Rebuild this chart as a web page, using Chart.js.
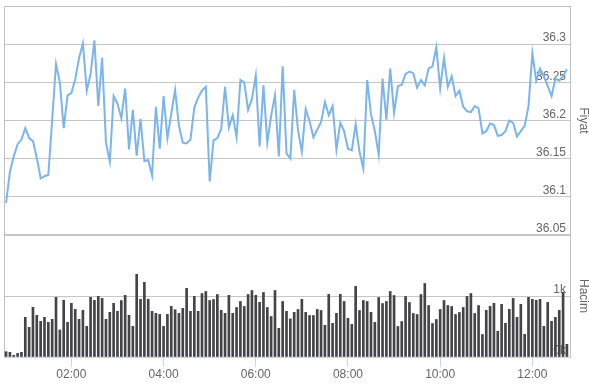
<!DOCTYPE html>
<html><head><meta charset="utf-8">
<script src="https://cdn.jsdelivr.net/npm/chart.js@4.4.1/dist/chart.umd.min.js"></script>
<style>html,body{margin:0;padding:0;background:#fff}#wrap{width:589px;height:384px}</style>
</head><body><div id="wrap"><canvas id="c" width="589" height="384"></canvas></div>
<script>
const times = [
'00:35','00:40','00:45','00:50','00:55',
'01:00','01:05','01:10','01:15','01:20','01:25','01:30','01:35','01:40','01:45','01:50','01:55',
'02:00','02:05','02:10','02:15','02:20','02:25','02:30','02:35','02:40','02:45','02:50','02:55',
'03:00','03:05','03:10','03:15','03:20','03:25','03:30','03:35','03:40','03:45','03:50','03:55',
'04:00','04:05','04:10','04:15','04:20','04:25','04:30','04:35','04:40','04:45','04:50','04:55',
'05:00','05:05','05:10','05:15','05:20','05:25','05:30','05:35','05:40','05:45','05:50','05:55',
'06:00','06:05','06:10','06:15','06:20','06:25','06:30','06:35','06:40','06:45','06:50','06:55',
'07:00','07:05','07:10','07:15','07:20','07:25','07:30','07:35','07:40','07:45','07:50','07:55',
'08:00','08:05','08:10','08:15','08:20','08:25','08:30','08:35','08:40','08:45','08:50','08:55',
'09:00','09:05','09:10','09:15','09:20','09:25','09:30','09:35','09:40','09:45','09:50','09:55',
'10:00','10:05','10:10','10:15','10:20','10:25','10:30','10:35','10:40','10:45','10:50','10:55',
'11:00','11:05','11:10','11:15','11:20','11:25','11:30','11:35','11:40','11:45','11:50','11:55',
'12:00','12:05','12:10','12:15','12:20','12:25','12:30','12:35','12:40','12:45'
];
const price = [
36.092,36.133,36.153,36.169,36.175,36.190,36.177,36.173,36.151,36.124,
36.127,36.129,36.201,36.274,36.250,36.190,36.233,36.236,36.254,36.282,
36.301,36.239,36.261,36.305,36.219,36.282,36.171,36.146,36.232,36.222,
36.203,36.242,36.162,36.214,36.154,36.202,36.147,36.148,36.128,36.218,
36.163,36.232,36.177,36.209,36.240,36.193,36.171,36.170,36.175,36.217,
36.230,36.239,36.244,36.120,36.174,36.177,36.189,36.244,36.191,36.207,
36.178,36.253,36.250,36.214,36.228,36.259,36.166,36.246,36.171,36.206,
36.233,36.153,36.271,36.157,36.150,36.240,36.187,36.159,36.215,36.199,
36.178,36.188,36.198,36.224,36.207,36.219,36.162,36.197,36.186,36.163,
36.161,36.195,36.159,36.137,36.253,36.208,36.186,36.155,36.255,36.201,
36.268,36.210,36.245,36.247,36.261,36.264,36.262,36.243,36.253,36.246,
36.268,36.271,36.296,36.242,36.282,36.244,36.258,36.232,36.239,36.218,
36.212,36.211,36.219,36.216,36.183,36.186,36.196,36.194,36.180,36.181,
36.186,36.200,36.197,36.179,36.186,36.193,36.219,36.288,36.252,36.268,
36.258,36.245,36.232,36.255,36.252,36.258,36.267
];
const volume = [
87,77,27,60,77,650,486,814,683,585,
650,568,617,978,443,929,568,880,781,617,
765,503,978,929,994,962,617,732,880,749,
925,1011,683,503,1355,945,1224,945,749,716,
699,503,699,830,775,716,798,1126,749,994,
749,1040,1073,926,942,1024,765,716,1011,716,
812,910,828,1025,1090,1011,896,1058,812,664,
1090,470,910,749,625,732,779,945,732,680,
680,779,762,519,1027,552,716,1027,910,634,
535,1158,762,926,910,732,568,975,877,910,
1074,1008,500,582,992,894,713,697,1025,1205,
844,549,615,779,926,844,828,697,730,812,
992,1041,713,844,369,765,830,880,421,863,
552,781,962,650,863,372,978,945,929,945,
503,896,585,650,765,1060,208
];
const xTickLabels = ['02:00','04:00','06:00','08:00','10:00','12:00'];
const priceTicks = [36.05,36.1,36.15,36.2,36.25,36.3];
const volumeTicks = [0,1000];

const toMin = s => { const p = s.split(':'); return (+p[0])*60 + (+p[1]); };
const fmtMin = v => { const h = Math.floor(v/60), m = Math.round(v%60); return String(h).padStart(2,'0')+':'+String(m).padStart(2,'0'); };

const plotBorder = {
  id: 'plotBorder',
  beforeDatasetsDraw(chart) {
    const {ctx, chartArea: a} = chart;
    ctx.save();
    ctx.strokeStyle = '#c0c0c0';
    ctx.lineWidth = 1;
    ctx.beginPath();
    ctx.moveTo(a.left + 0.5, a.bottom);
    ctx.lineTo(a.left + 0.5, a.top + 0.5);
    ctx.lineTo(a.right, a.top + 0.5);
    ctx.stroke();
    ctx.restore();
  }
};

Chart.defaults.font.family = "'Liberation Sans', Arial, sans-serif";
Chart.defaults.font.size = 12;
Chart.defaults.color = '#666666';

new Chart(document.getElementById('c'), {
  type: 'bar',
  data: {
    datasets: [
      {
        type: 'line',
        label: 'Fiyat',
        data: times.map((t, i) => ({x: toMin(t), y: price[i]})),
        xAxisID: 'x', yAxisID: 'y',
        borderColor: '#7cb5ec', borderWidth: 2,
        pointRadius: 0, tension: 0, fill: false
      },
      {
        type: 'bar',
        label: 'Hacim',
        data: times.map((t, i) => ({x: toMin(t), y: volume[i]})),
        xAxisID: 'x', yAxisID: 'y2',
        backgroundColor: '#434348',
        barThickness: 2
      }
    ]
  },
  options: {
    responsive: false,
    animation: false,
    devicePixelRatio: 1,
    layout: { padding: { left: 4, top: 6, right: 0, bottom: 0 } },
    plugins: { legend: { display: false }, tooltip: { enabled: false } },
    scales: {
      x: {
        type: 'linear',
        position: 'bottom',
        min: 32.3, max: 769,
        offset: false,
        afterBuildTicks: s => { s.ticks = xTickLabels.map(l => ({value: toMin(l)})); },
        afterFit: s => { s.height = 27; },
        ticks: { callback: v => fmtMin(v), padding: 0, maxRotation: 0, autoSkip: false, color: '#666666' },
        grid: { drawOnChartArea: false, drawTicks: true, tickLength: 10, color: '#ccd6eb', offset: false },
        border: { display: true, color: '#ccd6eb' }
      },
      y: {
        type: 'linear',
        position: 'right',
        stack: 'panels',
        stackWeight: 229,
        min: 36.05, max: 36.35,
        afterBuildTicks: s => { s.ticks = priceTicks.concat([36.35]).map(v => ({value: v})); },
        afterFit: s => { s.width = 19; },
        ticks: {
          mirror: true, padding: -4, labelOffset: -6,
          callback: v => (Math.abs(v - 36.35) < 1e-6 ? '' : String(parseFloat(v.toFixed(2))))
        },
        grid: { color: '#c6c6c6', drawTicks: false },
        border: { display: true, color: '#c0c0c0' },
        title: { display: true, text: 'Fiyat', color: '#666666', padding: 0, font: { size: 12, lineHeight: 1 } }
      },
      y2: {
        type: 'linear',
        position: 'right',
        stack: 'panels',
        stackWeight: 122,
        min: 0, max: 2000,
        afterBuildTicks: s => { s.ticks = volumeTicks.concat([2000]).map(v => ({value: v})); },
        afterFit: s => { s.width = 19; },
        ticks: {
          mirror: true, padding: -4, labelOffset: -6,
          callback: v => (v >= 2000 ? '' : (v / 1000) + 'k')
        },
        grid: {
          drawTicks: false,
          color: c => (c.tick && c.tick.value === 0 ? 'rgba(0,0,0,0)' : '#c6c6c6'),
          lineWidth: c => (c.tick && c.tick.value === 2000 ? 2 : 1)
        },
        border: { display: true, color: '#c0c0c0' },
        title: { display: true, text: 'Hacim', color: '#666666', padding: 0, font: { size: 12, lineHeight: 1 } }
      }
    }
  },
  plugins: [plotBorder]
});
</script>
</body></html>
